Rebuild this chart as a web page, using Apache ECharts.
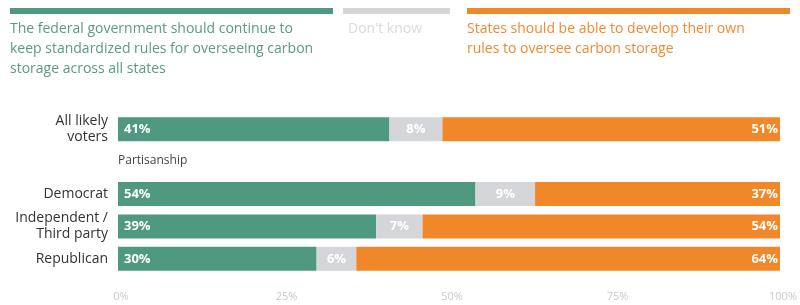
<!DOCTYPE html>
<html>
<head>
<meta charset="utf-8">
<script src="https://cdn.jsdelivr.net/npm/echarts@6/dist/echarts.min.js"></script>
<style>
  html, body { margin: 0; padding: 0; background: #fff; }
  #main { width: 800px; height: 305px; }
</style>
</head>
<body>
<div id="main"></div>
<script>
// categories (the empty one is the "Partisanship" heading row)
const categories = ['All likely\nvoters', '', 'Democrat', 'Independent /\nThird party', 'Republican'];
const federalRules = [41, '-', 54, 39, 30];
const dontKnow = [8, '-', 9, 7, 6];
const stateRules = [51, '-', 37, 54, 64];
const xTicks = [0, 25, 50, 75, 100];

const GREEN = '#4f9980';
const GRAY = '#d5d6da';
const ORANGE = '#f08729';
const FONT = 'Open Sans';

let chart = echarts.init(document.getElementById('main'));

function label(pos, dist) {
    return {
        show: true,
        position: pos,
        distance: dist,
        color: '#fff',
        fontWeight: 'bold',
        fontSize: 13,
        fontFamily: FONT,
        formatter: function (p) { return p.value + '%'; }
    };
}

chart.setOption({
    animation: false,
    textStyle: { fontFamily: FONT },
    grid: { left: 118, right: 10, top: 113, height: 162 },
    xAxis: {
        type: 'value',
        min: 0,
        max: 100,
        interval: 25,
        splitLine: { show: false },
        axisLine: { show: false },
        axisTick: { show: false },
        axisLabel: {
            margin: 16,
            color: '#cacaca',
            fontSize: 11,
            padding: [0, 0, 0, 6],
            formatter: function (v) { return xTicks.indexOf(v) >= 0 ? v + '%' : ''; }
        }
    },
    yAxis: {
        type: 'category',
        inverse: true,
        data: categories,
        axisLine: { show: false },
        axisTick: { show: false },
        axisLabel: {
            margin: 10,
            color: '#333',
            fontSize: 14,
            lineHeight: 16
        }
    },
    graphic: [
        // legend swatches
        { type: 'rect', shape: { x: 10, y: 8, width: 323, height: 6 }, style: { fill: GREEN } },
        { type: 'rect', shape: { x: 343, y: 8, width: 107, height: 6 }, style: { fill: GRAY } },
        { type: 'rect', shape: { x: 467, y: 8, width: 323, height: 6 }, style: { fill: ORANGE } },
        {
            type: 'text', left: 10, top: 19,
            style: {
                text: 'The federal government should continue to\nkeep standardized rules for overseeing carbon\nstorage across all states',
                fill: '#5b9a85', fontSize: 14, lineHeight: 20, fontFamily: FONT
            }
        },
        {
            type: 'text', left: 348, top: 19,
            style: { text: "Don't know", fill: '#dadada', fontSize: 14, lineHeight: 20, fontFamily: FONT }
        },
        {
            type: 'text', left: 467, top: 19,
            style: {
                text: 'States should be able to develop their own\nrules to oversee carbon storage',
                fill: '#f08a33', fontSize: 14, lineHeight: 20, fontFamily: FONT
            }
        },
        {
            type: 'text', left: 118, top: 155,
            style: { text: 'Partisanship', fill: '#444', fontSize: 12, fontFamily: FONT }
        }
    ],
    series: [
        {
            name: 'Federal',
            type: 'bar',
            stack: 'total',
            barWidth: 24,
            data: federalRules,
            itemStyle: { color: GREEN },
            label: label('insideLeft', 6)
        },
        {
            name: "Don't know",
            type: 'bar',
            stack: 'total',
            barWidth: 24,
            data: dontKnow,
            itemStyle: { color: GRAY },
            label: label('inside', 5)
        },
        {
            name: 'States',
            type: 'bar',
            stack: 'total',
            barWidth: 24,
            data: stateRules,
            itemStyle: { color: ORANGE },
            label: label('insideRight', 2)
        }
    ]
});
</script>
</body>
</html>
